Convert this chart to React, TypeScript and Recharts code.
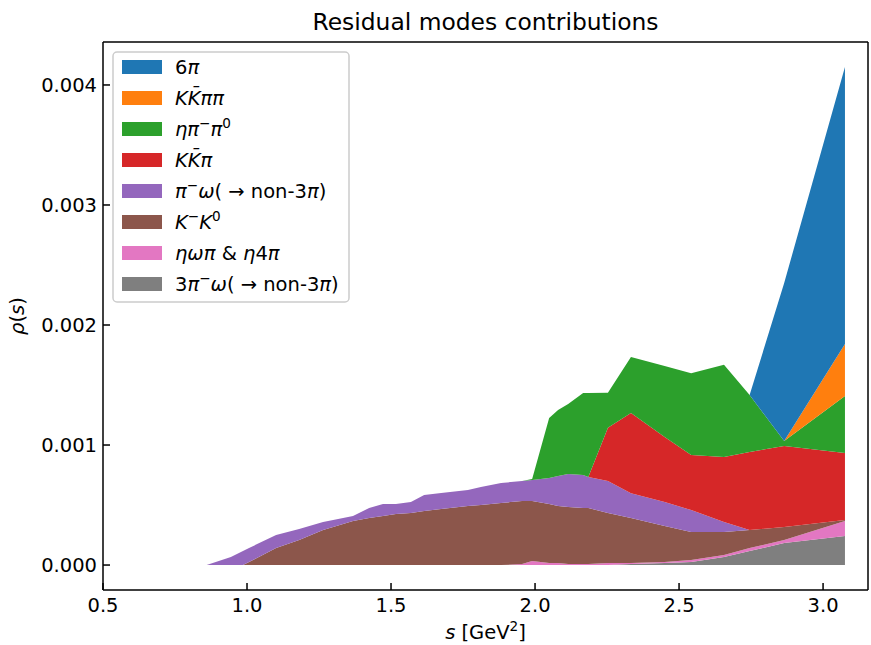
import React from 'react';
import { AreaChart, Area, XAxis, YAxis, Legend, ReferenceLine } from 'recharts';

// s values (GeV^2) at which the residual spectral contributions are sampled
const sValues = [
  0.86, 0.944, 0.986, 1.007, 1.101, 1.181, 1.264, 1.299, 1.368, 1.424, 1.472,
  1.517, 1.569, 1.615, 1.674, 1.767, 1.812, 1.882, 1.955, 1.99, 2.049, 2.08,
  2.115, 2.167, 2.185, 2.253, 2.333, 2.45, 2.542, 2.656, 2.745, 2.865, 3.076,
];

// Individual (non-cumulative) contributions of each mode, bottom of the stack first
const threePiOmega = [
  0, 0, 0, 0, 0, 0, 0, 0, 0, 0, 0, 0, 0, 0, 0, 0, 0, 0, 0, 0, 0, 0, 0, 0, 0, 0,
  0.000008, 0.000017, 0.000025, 0.000067, 0.000117, 0.000183, 0.000242,
];
const etaOmegaPi = [
  0, 0, 0, 0, 0, 0, 0, 0, 0, 0, 0, 0, 0, 0, 0, 0, 0, 0,
  0.000008, 0.000033, 0.000017, 0.000017, 0.000008, 0.000008, 0.000008,
  0.000017, 0.000008, 0.000008, 0.000017, 0.000017, 0.000025, 0.000025, 0.000125,
];
const kMinusK0 = [
  0, 0, 0, 0.000025, 0.000142, 0.000208, 0.000292, 0.000317, 0.000367, 0.000392,
  0.000408, 0.000425, 0.000433, 0.00045, 0.000467, 0.000492, 0.0005, 0.000517,
  0.000525, 0.0005, 0.000492, 0.000475, 0.000475, 0.000467, 0.000467, 0.000417,
  0.000375, 0.0003, 0.000233, 0.000192, 0.00015, 0.000108, 0.000008,
];
const piOmega = [
  0, 0.000067, 0.000117, 0.000117, 0.000108, 0.000092, 0.000067, 0.000058,
  0.000042, 0.000083, 0.0001, 0.000083, 0.000092, 0.000133, 0.000133, 0.000133,
  0.00015, 0.000167, 0.000167, 0.000175, 0.000217, 0.00025, 0.000275, 0.000275,
  0.000258, 0.000267, 0.000208, 0.0002, 0.000183, 0.000083, 0, 0, 0,
];
const kkPi = [
  0, 0, 0, 0, 0, 0, 0, 0, 0, 0, 0, 0, 0, 0, 0, 0, 0, 0, 0, 0, 0, 0, 0, 0, 0,
  0.000442, 0.000667, 0.000542, 0.000458, 0.000542, 0.00065, 0.000675, 0.000558,
];
const etaPiPi = [
  0, 0, 0, 0, 0, 0, 0, 0, 0, 0, 0, 0, 0, 0, 0, 0, 0, 0, 0,
  0.000008, 0.0005, 0.00055, 0.000583, 0.000683, 0.0007, 0.000292, 0.000467,
  0.000592, 0.000683, 0.000767, 0.000475, 0.000042, 0.000475,
];
const kkPiPi = [
  0, 0, 0, 0, 0, 0, 0, 0, 0, 0, 0, 0, 0, 0, 0, 0, 0, 0, 0, 0, 0, 0, 0, 0, 0, 0,
  0, 0, 0, 0, 0, 0, 0.000433,
];
const sixPi = [
  0, 0, 0, 0, 0, 0, 0, 0, 0, 0, 0, 0, 0, 0, 0, 0, 0, 0, 0, 0, 0, 0, 0, 0, 0, 0,
  0, 0, 0, 0, 0, 0.001317, 0.002308,
];

const xTicks = [0.5, 1.0, 1.5, 2.0, 2.5, 3.0];
const yTicks = [0, 0.001, 0.002, 0.003, 0.004];
const xDomain: [number, number] = [0.5, 3.156];
const yDomain: [number, number] = [-0.000208, 0.004358];

type Seg = [string, 'i' | 'r' | 'sup'];

// Stack order: first entry sits at the bottom
const series: { key: string; color: string; values: number[]; label: Seg[] }[] = [
  { key: 'threePiOmega', color: '#7f7f7f', values: threePiOmega, label: [['3', 'r'], ['π', 'i'], ['−', 'sup'], ['ω', 'i'], ['( → non-3', 'r'], ['π', 'i'], [')', 'r']] },
  { key: 'etaOmegaPi', color: '#e377c2', values: etaOmegaPi, label: [['ηωπ', 'i'], [' & ', 'r'], ['η', 'i'], ['4', 'r'], ['π', 'i']] },
  { key: 'kMinusK0', color: '#8c564b', values: kMinusK0, label: [['K', 'i'], ['−', 'sup'], ['K', 'i'], ['0', 'sup']] },
  { key: 'piOmega', color: '#9467bd', values: piOmega, label: [['π', 'i'], ['−', 'sup'], ['ω', 'i'], ['( → non-3', 'r'], ['π', 'i'], [')', 'r']] },
  { key: 'kkPi', color: '#d62728', values: kkPi, label: [['KK\u0304π', 'i']] },
  { key: 'etaPiPi', color: '#2ca02c', values: etaPiPi, label: [['ηπ', 'i'], ['−', 'sup'], ['π', 'i'], ['0', 'sup']] },
  { key: 'kkPiPi', color: '#ff7f0e', values: kkPiPi, label: [['KK\u0304ππ', 'i']] },
  { key: 'sixPi', color: '#1f77b4', values: sixPi, label: [['6', 'r'], ['π', 'i']] },
];

const FONT = 'DejaVu Sans';
const FS = 19.5;
const W = 871;
const H = 645;
const TICK_LEN = 7;
const X_GAP = 8;
const Y_GAP = 6;

function richText(segs: Seg[], supSize = 13.6, raise = 8) {
  let raised = false;
  return segs.map(([t, kind], k) => {
    const sup = kind === 'sup';
    let dy: number | undefined;
    if (sup && !raised) {
      dy = -raise;
      raised = true;
    } else if (!sup && raised) {
      dy = raise;
      raised = false;
    }
    return (
      <tspan
        key={k}
        dy={dy}
        fontStyle={kind === 'i' ? 'italic' : 'normal'}
        fontSize={sup ? supSize : undefined}
      >
        {t}
      </tspan>
    );
  });
}

// Bottom-axis tick: inward tick mark plus label
function XTick(props: any) {
  const { x, y, payload } = props;
  const axisY = y - X_GAP;
  return (
    <g>
      <line x1={x} x2={x} y1={axisY} y2={axisY - TICK_LEN} stroke="#000" strokeWidth={1.5} />
      <text x={x} y={y} dy="0.71em" textAnchor="middle" fontSize={FS} fontFamily={FONT} fill="#000">
        {Number(payload.value).toFixed(1)}
      </text>
    </g>
  );
}

// Left-axis tick: inward tick mark plus label
function YTick(props: any) {
  const { x, y, payload } = props;
  const axisX = x + Y_GAP;
  return (
    <g>
      <line x1={axisX} x2={axisX + TICK_LEN} y1={y} y2={y} stroke="#000" strokeWidth={1.5} />
      <text x={x} y={y} dy="0.355em" textAnchor="end" fontSize={FS} fontFamily={FONT} fill="#000">
        {Number(payload.value).toFixed(3)}
      </text>
    </g>
  );
}

function LegendBox() {
  const items = [...series].reverse();
  return (
    <svg width={238} height={252} style={{ display: 'block' }}>
      <rect x={1} y={1} width={236} height={250} rx={4} fill="#fff" fillOpacity={0.8} stroke="#cccccc" strokeWidth={1.5} />
      {items.map((item, i) => {
        const cy = 16 + i * 31;
        return (
          <g key={item.key}>
            <rect x={10} y={cy - 7} width={40} height={14} fill={item.color} />
            <text x={63} y={cy + 7} fontSize={FS} fontFamily={FONT} fill="#000">
              {richText(item.label)}
            </text>
          </g>
        );
      })}
    </svg>
  );
}

const lineStyle = { stroke: '#000', strokeWidth: 1.5 };

export default function App() {
  const data = sValues.map((s, i) => {
    const row: Record<string, number> = { s };
    series.forEach((sr) => {
      row[sr.key] = sr.values[i];
    });
    return row;
  });

  return (
    <div style={{ position: 'absolute', left: 0, top: 0, width: W, height: H, background: '#fff' }}>
      <AreaChart width={W} height={H} data={data} margin={{ top: 42, right: 3, bottom: 0, left: 0 }}>
        <XAxis
          dataKey="s"
          type="number"
          domain={xDomain}
          allowDataOverflow
          ticks={xTicks}
          height={55}
          tickSize={0}
          tickMargin={X_GAP}
          tick={<XTick />}
          tickLine={false}
          axisLine={lineStyle}
        />
        <YAxis
          type="number"
          domain={yDomain}
          allowDataOverflow
          ticks={yTicks}
          width={103}
          tickSize={0}
          tickMargin={Y_GAP}
          tick={<YTick />}
          tickLine={false}
          axisLine={lineStyle}
        />
        {series.map((sr) => (
          <Area
            key={sr.key}
            dataKey={sr.key}
            stackId="modes"
            type="linear"
            stroke="none"
            fill={sr.color}
            fillOpacity={1}
            dot={false}
            activeDot={false}
            isAnimationActive={false}
          />
        ))}
        {/* top and right frame lines */}
        <ReferenceLine y={yDomain[1]} stroke="#000" strokeWidth={1.5} />
        <ReferenceLine x={xDomain[1]} stroke="#000" strokeWidth={1.5} />
        <Legend
          layout="vertical"
          verticalAlign="middle"
          align="center"
          wrapperStyle={{ left: 112, top: 51, width: 238, height: 252 }}
          content={() => <LegendBox />}
        />
      </AreaChart>
      <svg
        width={W}
        height={H}
        style={{ position: 'absolute', left: 0, top: 0, pointerEvents: 'none' }}
      >
        <text x={485.5} y={30} textAnchor="middle" fontSize={23.4} fontFamily={FONT} fill="#000">
          Residual modes contributions
        </text>
        <text x={485.5} y={639} textAnchor="middle" fontSize={FS} fontFamily={FONT} fill="#000">
          {richText([['s', 'i'], [' [GeV', 'r'], ['2', 'sup'], [']', 'r']], 13.6, 8)}
        </text>
        <text
          x={24}
          y={316}
          textAnchor="middle"
          fontSize={FS}
          fontFamily={FONT}
          fill="#000"
          transform="rotate(-90 24 316)"
        >
          {richText([['ρ', 'i'], ['(', 'r'], ['s', 'i'], [')', 'r']])}
        </text>
      </svg>
    </div>
  );
}
